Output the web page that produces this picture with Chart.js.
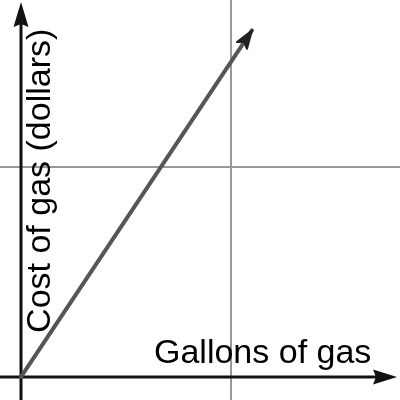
<!DOCTYPE html>
<html>
<head>
<meta charset="utf-8">
<script src="https://cdn.jsdelivr.net/npm/chart.js@4/dist/chart.umd.min.js"></script>
<style>
	html, body { margin: 0; padding: 0; background: #fff; }
	#wrap { width: 400px; height: 400px; }
</style>
</head>
<body>
<div id="wrap"><canvas id="chart" width="400" height="400"></canvas></div>
<script>
// data
var gallons = [0, 1.1];
var cost = [0, 1.65];
var gridX = [1];
var gridY = [1];
var xTitle = "Gallons of gas";
var yTitle = "Cost of gas (dollars)";

// axes through the origin, with arrow heads, plus the axis titles
var axesPlugin = {
	id: 'axes',
	beforeDatasetsDraw: function(chart) {
		var ctx = chart.ctx, a = chart.chartArea;
		var x0 = chart.scales.x.getPixelForValue(0);
		var y0 = chart.scales.y.getPixelForValue(0);
		ctx.save();
		ctx.strokeStyle = '#111';
		ctx.fillStyle = '#111';
		ctx.lineWidth = 3;
		// x axis
		ctx.beginPath();
		ctx.moveTo(a.left, y0);
		ctx.lineTo(a.right - 20, y0);
		ctx.stroke();
		ctx.beginPath();
		ctx.moveTo(a.right - 3, y0);
		ctx.lineTo(a.right - 27, y0 - 7.5);
		ctx.lineTo(a.right - 24, y0);
		ctx.lineTo(a.right - 27, y0 + 7.5);
		ctx.closePath();
		ctx.fill();
		// y axis
		ctx.beginPath();
		ctx.moveTo(x0, a.bottom);
		ctx.lineTo(x0, a.top + 20);
		ctx.stroke();
		ctx.beginPath();
		ctx.moveTo(x0, a.top + 2);
		ctx.lineTo(x0 - 7.5, a.top + 27);
		ctx.lineTo(x0, a.top + 24);
		ctx.lineTo(x0 + 7.5, a.top + 27);
		ctx.closePath();
		ctx.fill();
		// titles
		ctx.fillStyle = '#000';
		ctx.font = '34px "Liberation Sans", Arial, sans-serif';
		ctx.textBaseline = 'alphabetic';
		ctx.textAlign = 'left';
		ctx.fillText(xTitle, x0 + 133, y0 - 14);
		ctx.translate(x0 + 29, y0 - 44);
		ctx.rotate(-Math.PI / 2);
		ctx.fillText(yTitle, 0, 0);
		ctx.restore();
	},
	afterDatasetsDraw: function(chart) {
		// arrow head at the end of the cost line
		var pts = chart.getDatasetMeta(0).data;
		var p1 = pts[pts.length - 2], p2 = pts[pts.length - 1];
		var ang = Math.atan2(p2.y - p1.y, p2.x - p1.x);
		var ctx = chart.ctx;
		ctx.save();
		ctx.translate(p2.x, p2.y);
		ctx.rotate(ang);
		ctx.fillStyle = '#222';
		ctx.strokeStyle = '#222';
		ctx.lineWidth = 2;
		ctx.lineJoin = 'round';
		ctx.beginPath();
		ctx.moveTo(0, 0);
		ctx.lineTo(-18, -6);
		ctx.lineTo(-14, 0);
		ctx.lineTo(-18, 6);
		ctx.closePath();
		ctx.fill();
		ctx.stroke();
		ctx.restore();
	}
};

var points = gallons.map(function(g, i) { return { x: g, y: cost[i] }; });

new Chart(document.getElementById('chart').getContext('2d'), {
	type: 'scatter',
	data: {
		datasets: [{
			data: points,
			showLine: true,
			borderColor: '#555',
			borderWidth: 4,
			pointRadius: 0,
			borderCapStyle: 'round'
		}]
	},
	options: {
		responsive: false,
		animation: false,
		layout: { padding: 0 },
		plugins: {
			legend: { display: false },
			tooltip: { enabled: false }
		},
		scales: {
			x: {
				type: 'linear',
				min: -0.1,
				max: 1.805,
				afterBuildTicks: function(scale) {
					scale.ticks = gridX.map(function(v) { return { value: v }; });
				},
				ticks: { display: false },
				border: { display: false },
				grid: { color: '#999', lineWidth: 2, drawTicks: false }
			},
			y: {
				type: 'linear',
				min: -0.11,
				max: 1.795,
				afterBuildTicks: function(scale) {
					scale.ticks = gridY.map(function(v) { return { value: v }; });
				},
				ticks: { display: false },
				border: { display: false },
				grid: { color: '#999', lineWidth: 2, drawTicks: false }
			}
		}
	},
	plugins: [axesPlugin]
});
</script>
</body>
</html>
